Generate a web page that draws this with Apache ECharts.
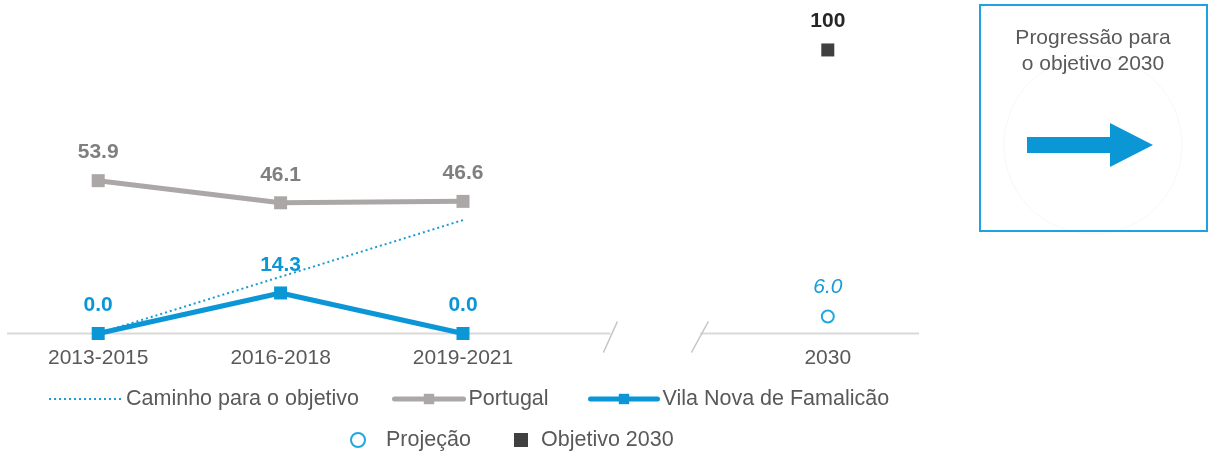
<!DOCTYPE html>
<html>
<head>
<meta charset="utf-8">
<script src="https://cdn.jsdelivr.net/npm/echarts@6/dist/echarts.min.js"></script>
<style>
  html, body { margin: 0; padding: 0; background: #ffffff; }
  #chart { width: 1213px; height: 456px; }
</style>
</head>
<body>
<div id="chart"></div>
<script>
// Periods on the x axis; the empty slot is the broken stretch before 2030
const categories = ['2013-2015', '2016-2018', '2019-2021', '', '2030'];
// Indicator values per period
const portugal = [53.9, 46.1, 46.6, null, null];
const famalicao = [0.0, 14.3, 0.0, null, null];
const caminho = [0, 20, 40, null, null];
const projecao = [null, null, null, null, 6.0];
const objetivo = [null, null, null, null, 100];
// Side panel caption
const boxTitle = ['Progressão para', 'o objetivo 2030'];

const FONT = '"Liberation Sans", Arial, Helvetica, sans-serif';
const BLUE = '#0b96d6';
const GREY = '#aba7a6';
const TEXT = '#595959';

const chart = echarts.init(document.getElementById('chart'), null, { renderer: 'canvas' });

const fmt = p => (p.value == null ? '' : Number(p.value).toFixed(1));

function legendItem(name, left, top, w, h, extra) {
  return Object.assign({
    data: [name],
    left: left,
    top: top,
    orient: 'horizontal',
    itemWidth: w,
    itemHeight: h,
    selectedMode: false,
    padding: 0,
    textStyle: { fontFamily: FONT, fontSize: 21.5, color: TEXT }
  }, extra || {});
}

const option = {
  animation: false,
  backgroundColor: '#ffffff',
  textStyle: { fontFamily: FONT },
  grid: { left: 7, right: 294, top: 21.6, bottom: 122.5, containLabel: false },
  xAxis: {
    type: 'category',
    data: categories,
    boundaryGap: true,
    axisLine: { show: false },
    axisTick: { show: false },
    axisLabel: { color: TEXT, fontSize: 21, fontFamily: FONT, margin: 14, interval: 0 }
  },
  yAxis: {
    type: 'value',
    min: 0,
    max: 110,
    show: false,
    splitLine: { show: false }
  },
  legend: [
    legendItem('Caminho para o objetivo', 48, 388, 72, 13, {
      itemStyle: { opacity: 0 },
      lineStyle: { width: 2 }
    }),
    legendItem('Portugal', 392, 388, 69, 13, { lineStyle: { width: 5, cap: 'round' } }),
    legendItem('Vila Nova de Famalicão', 588, 388, 67, 13, { lineStyle: { width: 5, cap: 'round' } }),
    legendItem('Projeção', 350, 429, 14, 14, {
      textStyle: { fontFamily: FONT, fontSize: 21.5, color: TEXT, padding: [0, 0, 0, 16] }
    }),
    legendItem('Objetivo 2030', 514, 429, 14, 14, {
      textStyle: { fontFamily: FONT, fontSize: 21.5, color: TEXT, padding: [0, 0, 0, 8] }
    })
  ],
  series: [
    {
      name: 'Caminho para o objetivo',
      type: 'line',
      data: caminho,
      symbol: 'none',
      z: 1,
      lineStyle: { color: '#1a9ad6', width: 2, type: [2, 3] },
      itemStyle: { color: '#1a9ad6' }
    },
    {
      name: 'Portugal',
      type: 'line',
      data: portugal,
      symbol: 'rect',
      symbolSize: 13,
      z: 2,
      lineStyle: { color: GREY, width: 5 },
      itemStyle: { color: GREY },
      label: {
        show: true, position: 'top', distance: 11, formatter: fmt,
        fontFamily: FONT, fontSize: 21, fontWeight: 'bold', color: '#7f7f7f'
      }
    },
    {
      name: 'Vila Nova de Famalicão',
      type: 'line',
      data: famalicao,
      symbol: 'rect',
      symbolSize: 13,
      z: 3,
      lineStyle: { color: BLUE, width: 5 },
      itemStyle: { color: BLUE },
      label: {
        show: true, position: 'top', distance: 11, formatter: fmt,
        fontFamily: FONT, fontSize: 21, fontWeight: 'bold', color: BLUE
      }
    },
    {
      name: 'Projeção',
      type: 'scatter',
      data: projecao,
      symbol: 'emptyCircle',
      symbolSize: 12,
      z: 4,
      itemStyle: { color: '#1fa8e0', borderWidth: 2, opacity: 1 },
      label: {
        show: true, position: 'top', distance: 12, formatter: fmt,
        fontFamily: FONT, fontSize: 21, fontStyle: 'italic', color: '#1a9ad6'
      }
    },
    {
      name: 'Objetivo 2030',
      type: 'scatter',
      data: objetivo,
      symbol: 'rect',
      symbolSize: 13,
      z: 4,
      itemStyle: { color: '#404040', opacity: 1 },
      label: {
        show: true, position: 'top', distance: 12,
        formatter: p => (p.value == null ? '' : String(p.value)),
        fontFamily: FONT, fontSize: 21, fontWeight: 'bold', color: '#262626'
      }
    }
  ]
};

chart.setOption(option);

// Broken baseline plus the side panel, placed from the axis scale
function decorations() {
  const p0 = chart.convertToPixel({ gridIndex: 0 }, [0, 0]);
  const p1 = chart.convertToPixel({ gridIndex: 0 }, [1, 0]);
  const p3 = chart.convertToPixel({ gridIndex: 0 }, [3, 0]);
  const p4 = chart.convertToPixel({ gridIndex: 0 }, [4, 0]);
  const band = p1[0] - p0[0];
  const y = p0[1];
  const left = p0[0] - band / 2;
  const right = p4[0] + band / 2;
  const breakL = p3[0] - 35;
  const breakR = p3[0] + 55;
  const axisStyle = { stroke: '#d9d9d9', lineWidth: 2 };
  const slashStyle = { stroke: '#c4c4c4', lineWidth: 1.5 };

  const els = [
    { type: 'line', silent: true, z: -1, shape: { x1: left, y1: y, x2: breakL, y2: y }, style: axisStyle },
    { type: 'line', silent: true, z: -1, shape: { x1: breakR, y1: y, x2: right, y2: y }, style: axisStyle },
    { type: 'line', silent: true, shape: { x1: breakL - 7, y1: y + 19, x2: breakL + 7, y2: y - 12 }, style: slashStyle },
    { type: 'line', silent: true, shape: { x1: breakR - 9, y1: y + 19, x2: breakR + 8, y2: y - 12 }, style: slashStyle },
    // side panel
    { type: 'circle', silent: true, shape: { cx: 1093, cy: 145, r: 89 }, style: { fill: 'none', stroke: '#f8f8f8', lineWidth: 1 } },
    { type: 'rect', silent: true, shape: { x: 980, y: 5, width: 227, height: 226 }, style: { fill: 'none', stroke: '#1ea3e0', lineWidth: 2 } },
    {
      type: 'text', silent: true, x: 1093, y: 38,
      style: { text: boxTitle[0], fill: TEXT, font: '21px ' + FONT, textAlign: 'center', textVerticalAlign: 'middle' }
    },
    {
      type: 'text', silent: true, x: 1093, y: 64,
      style: { text: boxTitle[1], fill: TEXT, font: '21px ' + FONT, textAlign: 'center', textVerticalAlign: 'middle' }
    },
    {
      type: 'polygon', silent: true,
      shape: { points: [[1027, 137], [1110, 137], [1110, 123], [1153, 145], [1110, 167], [1110, 153], [1027, 153]] },
      style: { fill: BLUE }
    }
  ];
  chart.setOption({ graphic: { elements: els } });
}
decorations();
</script>
</body>
</html>
